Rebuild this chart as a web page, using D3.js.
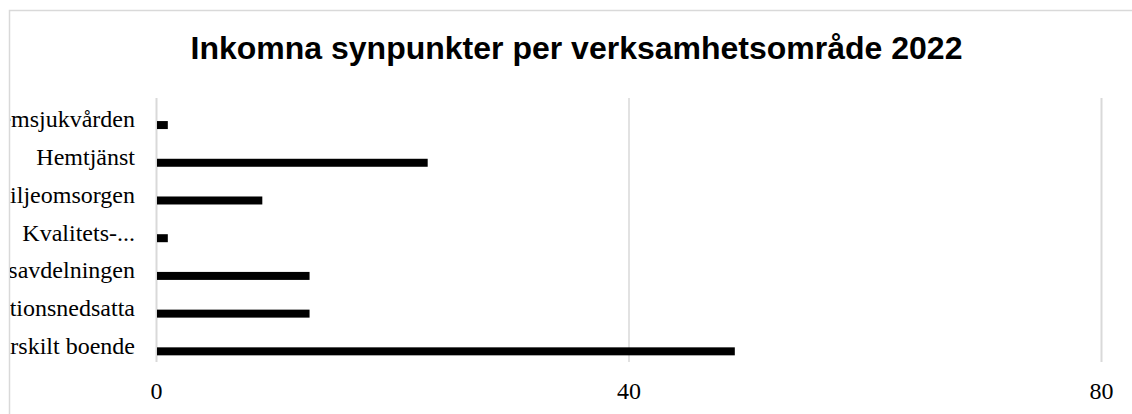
<!DOCTYPE html>
<html>
<head>
<meta charset="utf-8">
<script src="https://cdn.jsdelivr.net/npm/d3@7/dist/d3.min.js"></script>
<style>
  html, body { margin: 0; padding: 0; background: #fff; }
  svg { display: block; }
</style>
</head>
<body>
<svg id="chart" width="1132" height="414"></svg>
<script>
const title = "Inkomna synpunkter per verksamhetsområde 2022";
const categories = [
  "Hemsjukvården",
  "Hemtjänst",
  "Individ- och familjeomsorgen",
  "Kvalitets-...",
  "Myndighetsavdelningen",
  "Funktionsnedsatta",
  "Särskilt boende"
];
const values = [1, 23, 9, 1, 13, 13, 49];
const xTicks = [0, 40, 80];

const serif = "'Liberation Serif', 'Times New Roman', 'DejaVu Serif', serif";
const svg = d3.select("#chart");

// clip for the chart area (labels are cut at the chart's left edge)
svg.append("defs").append("clipPath").attr("id", "chartClip")
  .append("rect").attr("x", 10).attr("y", 11).attr("width", 1300).attr("height", 600);

// outer chart border (extends past the right/bottom edges)
svg.append("rect")
  .attr("x", 9.5).attr("y", 10.5)
  .attr("width", 1300).attr("height", 600)
  .attr("fill", "#fff")
  .attr("stroke", "#d9d9d9").attr("stroke-width", 1.5);

const x = d3.scaleLinear().domain([0, 80]).range([156, 1101]);
const y = d3.scaleBand().domain(categories).range([106.2, 370.2]).paddingInner(0.788).paddingOuter(0.394);

// title
svg.append("text")
  .attr("x", 576.5).attr("y", 59)
  .attr("text-anchor", "middle")
  .style("font-family", "'Liberation Sans', Arial, sans-serif")
  .style("font-weight", "bold")
  .style("font-size", "32px")
  .attr("fill", "#000")
  .text(title);

// gridlines (below bars)
const grid = d3.axisBottom(x).tickValues(xTicks).tickSize(-(362 - 98)).tickFormat("");
const gg = svg.append("g").attr("transform", "translate(0,362)").call(grid);
gg.select(".domain").remove();
gg.selectAll(".tick line").attr("stroke", "#d9d9d9").attr("stroke-width", (d) => d === 40 ? 1.5 : 2);

// bars (start just right of the zero line)
svg.append("g").selectAll("rect")
  .data(categories)
  .join("rect")
  .attr("x", x(0) + 1)
  .attr("y", d => y(d))
  .attr("width", (d, i) => x(values[i]) - x(0) - 1)
  .attr("height", y.bandwidth())
  .attr("fill", "#000");

// x tick labels
const xa = d3.axisBottom(x).tickValues(xTicks).tickSize(0).tickPadding(0).tickFormat(d3.format("d"));
const xg = svg.append("g").attr("transform", "translate(0,399)").call(xa)
  .attr("font-family", null).attr("font-size", null);
xg.select(".domain").remove();
xg.selectAll(".tick text")
  .attr("dy", 0).attr("y", 0)
  .style("font-family", serif)
  .style("font-size", "24px").attr("fill", "#000");

// category labels (clipped at the chart's left edge)
const ya = d3.axisLeft(y).tickSize(0).tickPadding(0);
const clipG = svg.append("g").attr("clip-path", "url(#chartClip)");
const yg = clipG.append("g").attr("transform", "translate(135,0)").call(ya)
  .attr("font-family", null).attr("font-size", null);
yg.select(".domain").remove();
yg.selectAll(".tick text")
  .attr("x", 0).attr("dy", "0.1em")
  .style("font-family", serif)
  .style("font-size", "24px").attr("fill", "#000");
</script>
</body>
</html>
